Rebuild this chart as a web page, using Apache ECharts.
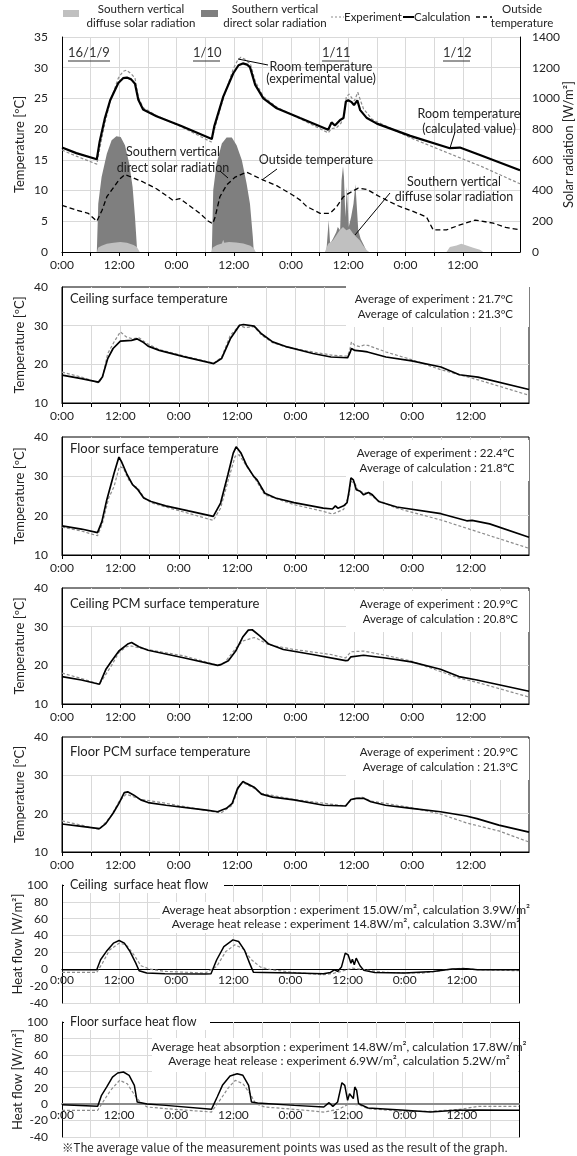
<!DOCTYPE html>
<html>
<head>
<meta charset="utf-8">
<script src="https://cdn.jsdelivr.net/npm/echarts@6/dist/echarts.min.js"></script>
<style>
html, body { margin: 0; padding: 0; background: #fff; }
#chart { width: 577px; height: 1156px; }
</style>
</head>
<body>
<div id="chart"></div>
<script>
// x axis: hours from 16/1/9 0:00
var labelHours = [0, 12, 24, 36, 48, 60, 72, 84];
var labelTexts = ['0:00', '12:00', '0:00', '12:00', '0:00', '12:00', '0:00', '12:00'];

// top panel: room / outside temperature [ºC], solar radiation [W/m2]
var roomCalc = [[0,17.0],[3,16.1],[7.3,15.1],[7.9,18.0],[9,21.8],[10.1,24.7],[11.8,27.5],[12.8,28.3],[13.6,28.4],[14.5,28.1],[15.3,27.4],[16.0,24.8],[17.0,23.2],[19.8,22.1],[25,20.5],[31.4,18.4],[31.9,20.4],[33.8,25.3],[35.9,29.1],[37.0,30.4],[37.9,30.7],[38.8,30.5],[39.4,30.1],[40.5,27.2],[42.2,25.0],[45.0,23.4],[49.9,21.8],[55.8,19.9],[56.5,21.1],[57.2,20.6],[58.3,21.5],[59.0,21.8],[59.5,24.5],[60.0,24.7],[60.7,24.4],[61.2,23.9],[61.9,24.7],[62.5,23.1],[63.9,21.8],[66.0,20.9],[73,18.9],[81.3,16.9],[83.4,17.0],[84.8,16.6],[87.6,15.8],[96,13.3]];
var roomExp = [[0,16.6],[3,15.6],[7.3,14.3],[7.9,16.8],[9,21.0],[10.1,24.5],[11.8,28.3],[12.8,29.4],[13.5,29.6],[14.5,29.0],[15.3,28.3],[16.0,25.2],[17.0,23.5],[19.8,22.2],[25,20.4],[31.3,17.9],[31.9,19.8],[33.8,25.0],[35.9,29.8],[36.8,31.2],[37.5,31.7],[38.5,31.3],[39.5,30.6],[40.5,27.8],[42.2,25.3],[45,23.6],[49.9,21.7],[55.8,19.4],[56.5,20.1],[57.5,20.2],[58.5,21.0],[59.2,22.5],[59.6,25.3],[60.2,25.7],[60.8,25.0],[61.3,24.6],[62.0,26.0],[62.6,24.6],[63.2,23.3],[65,21.6],[73,18.6],[81.3,16.0],[88,13.9],[96,11.1]];
var outsideTemp = [[0,7.6],[1.5,7.2],[3.1,6.8],[5.5,6.3],[7.3,5.0],[8.4,6.8],[9.4,9.0],[10.9,10.6],[12,11.8],[13.2,12.6],[14.5,12.2],[17.0,11.4],[19.8,10.3],[23.3,8.4],[24.7,8.7],[26.1,7.9],[28.9,6.3],[30.7,5.0],[31.6,4.6],[32.1,5.7],[33.1,9.0],[34.5,10.9],[36.3,12.2],[38.7,13.0],[42.2,11.7],[45.0,10.8],[48.5,9.2],[50,8.4],[51.3,7.4],[54.1,6.3],[56.2,6.3],[57.5,7.3],[59,9.0],[60,9.5],[62.1,10.4],[63.9,10.2],[66.6,9.0],[70.2,7.6],[73.6,6.6],[76.4,5.7],[77.8,3.6],[80.6,3.6],[83.4,4.4],[86.6,5.2],[90.4,4.7],[93,4.0],[96,3.6]];
var directSolar = [[0,0],[7.3,0],[7.6,315],[8.3,488],[9.4,640],[10.4,727],[11.4,753],[12.3,749],[13.2,695],[14.1,575],[14.8,423],[15.3,228],[15.7,33],[15.8,0],
  [31.4,0],[31.7,402],[32.4,575],[33.5,706],[34.5,745],[35.6,745],[36.6,695],[37.7,597],[38.7,445],[39.4,315],[40.0,98],[40.2,0],
  [55.4,0],[55.9,206],[56.2,54],[56.8,87],[57.5,130],[57.8,163],[58.3,141],[58.6,467],[58.9,558],[59.1,488],[59.4,228],[59.7,423],[60.1,163],[60.6,228],[61.1,315],[61.5,441],[61.8,293],[62.1,141],[62.6,87],[63.3,43],[63.9,0],[96,0]];
var diffuseSolar = [[0,0],[7.3,0],[7.6,30],[8.3,40],[9.4,54],[10.8,61],[12.2,65],[13.6,61],[15,45],[15.7,33],[16.3,0],
  [31.3,0],[31.6,30],[32.5,45],[33.5,55],[33.8,80],[34.0,60],[35,65],[36.5,62],[38,55],[39.5,40],[40.2,25],[40.6,0],
  [55.1,0],[55.8,54],[56.8,76],[57.5,109],[58.2,141],[58.9,163],[59.6,141],[60.3,152],[61.0,120],[61.7,98],[62.4,76],[63.1,43],[63.9,11],[64.4,0],
  [80.6,0],[81.3,33],[82.7,43],[83.7,54],[84.8,43],[86.2,28],[87.6,15],[88.3,0],[96,0]];

// surface temperatures [ºC]
var ceilCalc = [[0,17.2],[4,16.3],[7.5,15.4],[8.3,16.7],[9.4,21.5],[10.5,24.1],[12.0,26.0],[14.3,26.2],[15.4,26.6],[16.6,25.8],[17.7,24.7],[20,23.6],[25,22.0],[31.2,20.2],[31.6,20.0],[32.8,21.5],[34.6,26.6],[36.5,30.1],[37.3,30.3],[39.5,29.9],[41,27.9],[43.3,25.8],[46.3,24.5],[51.6,22.8],[55.3,21.9],[58.7,21.7],[59.2,23.0],[59.5,24.1],[60.2,23.6],[61.7,23.4],[62.8,23.2],[66.6,21.9],[71.9,20.9],[77.9,19.3],[81.7,17.3],[85.5,16.7],[96,13.5]];
var ceilExp = [[0,18.0],[4,16.7],[7.5,15.2],[8.3,16.5],[9.4,22.8],[10.8,26.0],[12.0,28.4],[13.2,27.1],[14.5,26.6],[15.8,26.9],[17.3,25.5],[20,23.8],[25,22.2],[31.2,20.3],[31.6,19.9],[32.8,21.8],[34.6,27.5],[36.5,30.1],[37.6,29.5],[39.5,29.7],[41,27.6],[43.3,25.6],[46.3,24.4],[51.6,23.2],[55.3,22.4],[58.7,22.1],[59.2,24.0],[59.5,25.8],[60.2,24.9],[61.2,24.6],[62.1,25.0],[62.9,24.9],[66.6,23.2],[71.9,21.2],[77.9,18.6],[85.5,16.0],[96,12.0]];
var floorCalc = [[0,17.4],[4,16.6],[7.3,15.7],[8.2,18.5],[9.2,24.0],[10.7,30.8],[11.7,34.9],[12.2,33.8],[13.4,30.4],[14.5,27.9],[15.6,26.6],[16.8,24.5],[18.3,23.6],[21.3,22.5],[26,21.2],[31.1,19.8],[31.5,19.6],[32.6,23.2],[34.1,30.4],[35.2,35.9],[35.8,37.5],[36.8,35.9],[37.9,32.9],[39.4,30.0],[40.1,29.1],[41.7,25.7],[43.9,24.5],[47.7,23.3],[53.7,21.9],[55.6,21.7],[56.2,22.5],[56.7,21.9],[57.9,22.5],[58.6,23.3],[59.0,26.2],[59.4,29.6],[59.9,29.1],[60.5,26.6],[61.3,26.2],[62.0,25.3],[63.0,25.9],[63.8,25.3],[65.1,23.6],[68.8,22.2],[77.9,20.5],[83.2,18.7],[84.3,18.8],[87.9,17.9],[96,14.5]];
var floorExp = [[0,17.1],[4,16.1],[7.3,14.9],[8.3,18.0],[9.6,24.5],[10.7,27.4],[11.8,32.5],[12.6,32.1],[13.7,29.1],[14.8,27.6],[15.6,27.0],[16.8,24.7],[18.3,23.3],[21.3,22.2],[26,20.6],[31.1,18.8],[31.5,18.5],[32.6,21.9],[34.1,28.7],[35.6,35.1],[36.4,35.5],[37.5,33.4],[39.4,30.0],[41.7,25.3],[47.7,22.8],[53.7,21.1],[55.6,20.4],[57.9,21.6],[59.0,25.3],[59.4,28.7],[60.2,28.3],[60.9,26.2],[62.8,25.7],[65.1,23.8],[68.8,21.9],[77.9,18.9],[84.2,16.4],[96,11.7]];
var ceilPcmCalc = [[0,17.1],[4,16.2],[7.7,15.1],[9,18.9],[10.2,21.1],[11.7,23.7],[13.5,25.5],[14.3,25.9],[15.8,24.8],[17.7,23.9],[25.2,21.9],[32.0,20.0],[32.7,20.2],[34.2,21.2],[35.7,23.7],[37.2,27.4],[38.3,29.1],[39.1,29.2],[40.6,27.7],[42.5,25.5],[45.5,24.1],[51.5,22.8],[58.3,21.2],[58.8,21.3],[59.4,22.2],[62,22.6],[66.5,21.9],[71.8,20.9],[77.8,19.0],[81.6,17.1],[85.3,16.2],[96,13.3]];
var ceilPcmExp = [[0,18.0],[4,16.6],[7.7,15.1],[10.2,20.0],[11.7,23.3],[13.2,24.8],[14.3,25.0],[16.2,24.4],[25.2,22.4],[32.0,20.0],[33.5,20.8],[35.7,24.4],[37.2,26.3],[39.5,27.2],[40.3,26.8],[42.5,25.3],[47.7,24.1],[55.3,22.8],[58.3,21.9],[59.4,23.5],[62,23.7],[66.5,22.6],[71.8,21.1],[77.8,18.4],[81.6,16.7],[85.3,15.6],[96,11.8]];
var floorPcmCalc = [[0,17.3],[4,16.7],[7.7,16.1],[9,17.4],[10.5,20.1],[11.7,22.7],[12.8,25.5],[13.5,25.7],[14.7,24.9],[16.2,23.6],[17.7,22.9],[21.4,22.2],[29.7,20.9],[32.0,20.5],[33.8,21.4],[35,22.7],[36.1,26.6],[37.2,28.4],[37.9,27.9],[39.5,26.9],[41,25.1],[43.3,24.3],[47.7,23.6],[53.8,22.2],[58.3,22.0],[59.4,23.7],[60.5,24.0],[62,24.0],[63.5,23.1],[66.5,22.2],[71.8,21.4],[77.8,20.5],[83.1,19.4],[85.3,18.7],[89.8,17.0],[96,15.2]];
var floorPcmExp = [[0,18.1],[4,17.0],[7.7,15.9],[10.2,19.6],[11.7,23.1],[13.2,25.1],[14.7,24.4],[16.2,23.7],[21.4,22.7],[31.2,20.5],[32.7,20.2],[35,22.2],[36.5,27.5],[37.2,28.1],[39.5,26.6],[41,25.3],[47.7,23.7],[58.3,22.0],[59.4,23.6],[61.7,24.3],[63.5,23.3],[71.8,21.6],[77.8,19.9],[83.1,17.6],[89.8,15.5],[96,12.6]];

// surface heat flow [W/m2]
var ceilFlowCalc = [[0,-0.5],[7.3,-0.5],[8.1,11.3],[9.3,21],[10.8,31],[12.0,34.1],[13.1,31],[14.3,21],[15.5,7.3],[16.2,-1.7],[17.8,-4.5],[21.6,-5.3],[30.1,-5.7],[31.3,-5.3],[32.5,11.3],[34.0,27],[35.9,34.9],[37.1,33],[38.3,23.1],[39.4,7.3],[40.2,-3.4],[42.5,-3.7],[48.7,-4.5],[54.9,-5.3],[56.4,-3.7],[57.2,-0.6],[57.9,-2.5],[58.7,2.6],[59.5,19.2],[60.1,17.2],[60.7,7.3],[61.0,12],[61.4,5.4],[61.8,13.2],[62.2,14.4],[62.6,4.2],[63.4,-1.3],[65.7,-3.7],[71.9,-4.5],[78,-2.5],[81.9,0.2],[85,0.6],[87.3,-0.5],[96,-0.5]];
var ceilFlowExp = [[0,-3.7],[7.3,-3.7],[8.5,7.3],[10,23],[12,31],[13.5,29],[15.1,17.2],[16.6,4.2],[18.5,0.2],[21.6,-2.5],[30.1,-4.5],[32.5,3.4],[34.4,21],[36.3,29],[37.9,25],[39.8,11.3],[41.7,2.6],[44,-0.6],[48.7,-3.7],[54.9,-6.5],[57.2,-4.5],[58.7,-2.5],[61,1.4],[63.4,-0.5],[68,-3.7],[75.7,-4.5],[81.1,-0.5],[84.2,1.4],[87.3,-0.5],[96,-1.7]];
var floorFlowCalc = [[0,-0.6],[7.5,-2.7],[8.3,10.7],[9.4,20.9],[10.6,33],[11.7,37.9],[12.9,39.1],[14.1,35.1],[15.2,22.9],[15.8,2.6],[17.9,0.2],[21.8,-1.5],[31.4,-6.3],[32.6,8.7],[33.7,22.9],[35.3,34.3],[36.8,37.1],[38,35.1],[39.2,22.9],[39.8,2.6],[41.1,1.4],[48.8,-1.5],[55,-3.5],[56.1,1.8],[56.9,-2.7],[57.9,2.6],[58.8,26.1],[59.4,22.9],[60,4.6],[60.4,12.7],[60.8,13.9],[61.2,6.7],[61.5,20.9],[61.9,16.8],[62.3,0.6],[64.3,-4.7],[72,-7.5],[77.4,-9.6],[82.8,-7.5],[87.4,-7.1],[96,-7.5]];
var floorFlowExp = [[0,-7.5],[7.5,-7.5],[8.6,2.6],[10.2,16.8],[12.1,29],[13.7,24.9],[15.2,11.5],[16.4,2.6],[17.9,-3.5],[21.8,-5.5],[31.4,-9.6],[33.4,6.7],[34.9,19.6],[36.4,29],[38,24.9],[39.5,12.7],[40.7,0.6],[42.6,-3.5],[48.8,-6.3],[55,-9.6],[58.1,-6.3],[60.4,0.6],[62.7,-1.5],[64.3,-5.5],[72,-8.8],[77.4,-8.8],[83.6,-6.3],[87.4,-2.7],[96,-2.7]];

var FONT = 'Lato, "Noto Sans", sans-serif';
var GRID_C = '#d9d9d9';
var EXP_C = '#8c8c8c';

var grids = [
  { left: 62, top: 37, width: 458, height: 215 },
  { left: 62, top: 287, width: 467, height: 116, show: true, borderColor: '#000', borderWidth: 1 },
  { left: 62, top: 437, width: 467, height: 118, show: true, borderColor: '#000', borderWidth: 1 },
  { left: 62, top: 588, width: 467, height: 116, show: true, borderColor: '#000', borderWidth: 1 },
  { left: 62, top: 737, width: 467, height: 115, show: true, borderColor: '#000', borderWidth: 1 },
  { left: 62, top: 885, width: 457, height: 118 },
  { left: 62, top: 1022, width: 457, height: 115 }
];
grids.forEach(function (g) { g.outerBoundsMode = 'none'; g.containLabel = false; });

function timeFmt(v) {
  var i = labelHours.indexOf(v);
  return i < 0 ? '' : labelTexts[i];
}

var xAxes = grids.map(function (g, i) {
  var flow = i >= 5;
  return {
    type: 'value', gridIndex: i, min: 0, max: 96, interval: 6,
    // heat-flow panels: axis sits on the zero line (-40..100 range)
    offset: flow ? -g.height * 40 / 140 : 0,
    axisLine: { show: true, onZero: !flow, lineStyle: { color: i === 6 ? '#8c8c8c' : '#000', width: i === 6 ? 2 : 1.2 } },
    axisTick: { show: !flow, length: 4, lineStyle: { color: '#000' } },
    axisLabel: { formatter: timeFmt, showMaxLabel: false, color: '#222', fontSize: 12, fontFamily: FONT, margin: flow ? 5 : 7 },
    splitLine: { show: true, showMinLine: false, showMaxLine: false, lineStyle: { color: GRID_C, width: 1 } }
  };
});

function tempAxis(gi) {
  return {
    type: 'value', gridIndex: gi, min: 10, max: 40, interval: 10,
    name: 'Temperature [ºC]', nameLocation: 'middle', nameGap: 36, nameRotate: 90, nameMoveOverlap: false,
    nameTextStyle: { fontSize: 13, fontFamily: FONT, color: '#222' },
    axisLine: { show: true, lineStyle: { color: '#000', width: 1 } },
    axisTick: { show: false },
    axisLabel: { color: '#222', fontSize: 12, fontFamily: FONT, margin: 14 },
    splitLine: { show: true, showMinLine: false, showMaxLine: false, lineStyle: { color: GRID_C } }
  };
}
function flowAxis(gi) {
  return {
    type: 'value', gridIndex: gi, min: -40, max: 100, interval: 20,
    name: 'Heat flow [W/m²]', nameLocation: 'middle', nameGap: 38, nameRotate: 90, nameMoveOverlap: false,
    nameTextStyle: { fontSize: 13, fontFamily: FONT, color: '#222' },
    axisLine: { show: true, onZero: false, lineStyle: { color: '#000', width: 1 } },
    axisTick: { show: false },
    axisLabel: { color: '#222', fontSize: 12, fontFamily: FONT, margin: 14 },
    splitLine: { show: true, showMinLine: true, showMaxLine: true,
      lineStyle: { color: [GRID_C, GRID_C, gi === 5 ? '#000' : '#8c8c8c', GRID_C, GRID_C, GRID_C, GRID_C, '#000'] } }
  };
}
function borderAxis(gi) {
  return {
    type: 'value', gridIndex: gi, min: -40, max: 100, interval: 20, position: 'right',
    axisLine: { show: true, onZero: false, lineStyle: { color: '#000', width: 1 } },
    axisTick: { show: false }, axisLabel: { show: false }, splitLine: { show: false }
  };
}

var yAxes = [
  {
    type: 'value', gridIndex: 0, min: 0, max: 35, interval: 5,
    name: 'Temperature [ºC]', nameLocation: 'middle', nameGap: 36, nameRotate: 90, nameMoveOverlap: false,
    nameTextStyle: { fontSize: 13, fontFamily: FONT, color: '#222' },
    axisLine: { show: true, lineStyle: { color: '#000' } },
    axisTick: { show: false },
    axisLabel: { color: '#222', fontSize: 12, fontFamily: FONT, margin: 14 },
    splitLine: { show: true, showMinLine: false, lineStyle: { color: GRID_C } }
  },
  {
    type: 'value', gridIndex: 0, min: 0, max: 1400, interval: 200, position: 'right',
    name: 'Solar radiation [W/m²]', nameLocation: 'middle', nameGap: 42, nameRotate: 90, nameMoveOverlap: false,
    nameTextStyle: { fontSize: 13, fontFamily: FONT, color: '#222' },
    axisLine: { show: true, lineStyle: { color: '#000' } },
    axisTick: { show: false },
    axisLabel: { color: '#222', fontSize: 12, fontFamily: FONT, margin: 12, formatter: function (v) { return String(v); } },
    splitLine: { show: false }
  },
  tempAxis(1), tempAxis(2), tempAxis(3), tempAxis(4),
  flowAxis(5), borderAxis(5), flowAxis(6), borderAxis(6)
];

function expLine(data, xi, yi) {
  return { type: 'line', data: data, xAxisIndex: xi, yAxisIndex: yi, showSymbol: false, silent: true,
    lineStyle: { color: EXP_C, width: 1.2, type: [3, 2] }, z: 3 };
}
function calcLine(data, xi, yi, w) {
  return { type: 'line', data: data, xAxisIndex: xi, yAxisIndex: yi, showSymbol: false, silent: true,
    lineStyle: { color: '#000', width: w || 1.7 }, z: 4 };
}

var series = [
  { type: 'line', data: directSolar, xAxisIndex: 0, yAxisIndex: 1, showSymbol: false, silent: true,
    lineStyle: { width: 0 }, areaStyle: { color: '#7f7f7f', opacity: 1 }, z: 2 },
  { type: 'line', data: diffuseSolar, xAxisIndex: 0, yAxisIndex: 1, showSymbol: false, silent: true,
    lineStyle: { width: 0 }, areaStyle: { color: '#c0c0c0', opacity: 1 }, z: 2 },
  { type: 'line', data: outsideTemp, xAxisIndex: 0, yAxisIndex: 0, showSymbol: false, silent: true,
    lineStyle: { color: '#000', width: 1.3, type: [5, 3] }, z: 3 },
  expLine(roomExp, 0, 0), calcLine(roomCalc, 0, 0, 2.2),
  expLine(ceilExp, 1, 2), calcLine(ceilCalc, 1, 2),
  expLine(floorExp, 2, 3), calcLine(floorCalc, 2, 3),
  expLine(ceilPcmExp, 3, 4), calcLine(ceilPcmCalc, 3, 4),
  expLine(floorPcmExp, 4, 5), calcLine(floorPcmCalc, 4, 5),
  expLine(ceilFlowExp, 5, 6), calcLine(ceilFlowCalc, 5, 6, 1.5),
  expLine(floorFlowExp, 6, 8), calcLine(floorFlowCalc, 6, 8, 1.5)
];

// annotations, legend and text boxes
var g = [];
function txt(x, y, s, size, align, extra) {
  var o = { type: 'text', x: x, y: y, z: 10, silent: true,
    style: { text: s, font: size + 'px ' + FONT, fill: '#222', textAlign: align || 'left', textVerticalAlign: 'middle' } };
  if (extra) for (var k in extra) o.style[k] = extra[k];
  g.push(o);
}
function box(x, y, w, h) {
  g.push({ type: 'rect', z: 1, silent: true, shape: { x: x, y: y, width: w, height: h }, style: { fill: '#fff' } });
}
function seg(x1, y1, x2, y2, color, width, dash) {
  g.push({ type: 'line', z: 10, silent: true, shape: { x1: x1, y1: y1, x2: x2, y2: y2 },
    style: { stroke: color || '#000', lineWidth: width || 1, lineDash: dash || null } });
}

// legend
g.push({ type: 'rect', z: 10, shape: { x: 63, y: 10, width: 16, height: 7 }, style: { fill: '#c0c0c0' } });
txt(141, 16, 'Southern vertical\ndiffuse solar radiation', 11.5, 'center', { lineHeight: 14 });
g.push({ type: 'rect', z: 10, shape: { x: 201, y: 10, width: 17, height: 7 }, style: { fill: '#7f7f7f' } });
txt(275, 16, 'Southern vertical\ndirect solar radiation', 11.5, 'center', { lineHeight: 14 });
seg(331, 17, 344, 17, EXP_C, 1.2, [2, 2]);
txt(344, 17, 'Experiment', 11.5);
seg(403, 17, 414, 17, '#000', 2);
txt(414, 17, 'Calculation', 11.5);
seg(476, 17, 492, 17, '#000', 1.3, [4, 3]);
txt(522, 16, 'Outside\ntemperature', 11.5, 'center', { lineHeight: 14 });

// dates
[['16/1/9', 68], ['1/10', 193], ['1/11', 322], ['1/12', 443]].forEach(function (d) {
  txt(d[1], 53, d[0], 13, 'left', { fill: '#333' });
  seg(d[1], 61, d[1] + (d[0].length > 4 ? 42 : 27), 61, '#333', 1);
});

// top panel callouts
txt(321, 73, 'Room temperature\n(experimental value)', 12.5, 'center', { lineHeight: 12 });
seg(238, 59, 268, 65);
txt(469, 121, 'Room temperature\n(calculated value)', 12.5, 'center', { lineHeight: 15 });
seg(455, 132, 450, 148);
txt(173, 160, 'Southern vertical\ndirect solar radiation', 12.5, 'center', { lineHeight: 15.5 });
seg(220, 171, 228, 178);
txt(316, 160, 'Outside temperature', 12.5, 'center');
seg(262, 180, 277, 169);
txt(454, 189, 'Southern vertical\ndiffuse solar radiation', 12.5, 'center', { lineHeight: 15 });
seg(390, 193, 355, 235);

// temperature panel titles and averages
var panelText = [
  { top: 287, right: 513, title: 'Ceiling surface temperature', ty: 299, exp: '21.7ºC', calc: '21.3ºC', ay: 299, tw: 176, by: 38 },
  { top: 437, right: 514, title: 'Floor surface temperature', ty: 449, exp: '22.4℃', calc: '21.8℃', ay: 453, tw: 164, by: 20 },
  { top: 588, right: 518, title: 'Ceiling PCM surface temperature', ty: 604, exp: '20.9ºC', calc: '20.8ºC', ay: 604, tw: 200, by: 38 },
  { top: 737, right: 518, title: 'Floor PCM surface temperature', ty: 752, exp: '20.9ºC', calc: '21.3ºC', ay: 752, tw: 190, by: 38 }
];
panelText.forEach(function (p) {
  box(63, p.top + 1, p.tw, p.by - 1);
  txt(70, p.ty, p.title, 13);
  box(346, p.ay - 13, 529 - 346, 41);
  txt(p.right, p.ay, 'Average of experiment : ' + p.exp, 11.5, 'right');
  txt(p.right, p.ay + 15, 'Average of calculation : ' + p.calc, 11.5, 'right');
});

// heat flow titles and averages
box(64, 878, 160, 15);
txt(70, 885, 'Ceiling  surface heat flow', 12.5);
box(160, 902, 358, 31);
txt(346, 910, 'Average heat absorption : experiment 15.0W/m², calculation 3.9W/m²', 12, 'center');
txt(346, 924, 'Average heat release : experiment 14.8W/m², calculation 3.3W/m²', 12, 'center');
box(64, 1015, 146, 15);
txt(70, 1022, 'Floor surface heat flow', 12.5);
box(152, 1038, 366, 34);
txt(339, 1047, 'Average heat absorption : experiment 14.8W/m², calculation 17.8W/m²', 12, 'center');
txt(339, 1061, 'Average heat release : experiment 6.9W/m², calculation 5.2W/m²', 12, 'center');

txt(62, 1148, '※The average value of the measurement points was used as the result of the graph.', 11.5, 'left',
  { font: '11.5px "Noto Sans CJK JP", ' + FONT });

var chart = echarts.init(document.getElementById('chart'), null, { renderer: 'canvas' });
chart.setOption({
  animation: false,
  backgroundColor: '#fff',
  grid: grids,
  xAxis: xAxes,
  yAxis: yAxes,
  series: series,
  graphic: { elements: g }
});
</script>
</body>
</html>
